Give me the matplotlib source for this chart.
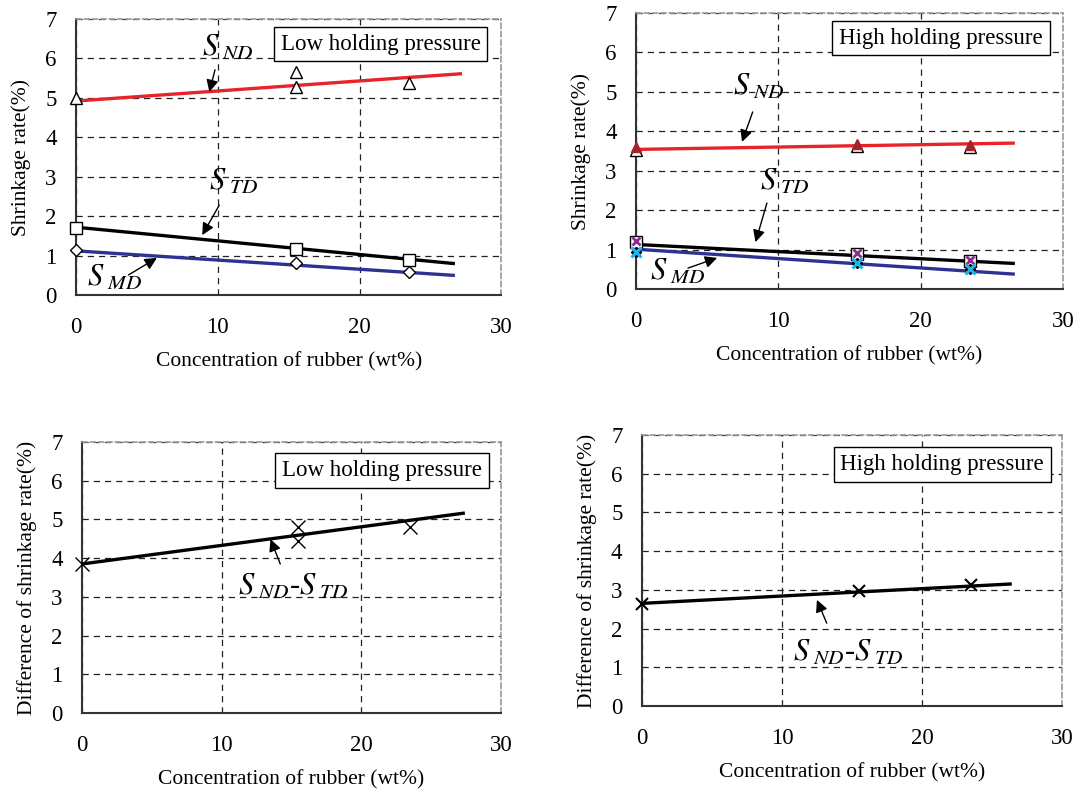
import numpy as np
import matplotlib
matplotlib.use("Agg")
import matplotlib.pyplot as plt

plt.rcParams['font.family'] = ['Liberation Serif', 'DejaVu Serif']
plt.rcParams['mathtext.fontset'] = 'stix'

# ---------------------------------------------------------
# Data
# ---------------------------------------------------------
rubber = [0, 15.5, 15.5, 23.5]          # wt% (two samples at 15.5)
rubber3 = [0, 15.5, 23.5]

# Low holding pressure
low_nd = [5.0, 5.65, 5.28, 5.38]
low_td = [1.71, 1.18, 0.89]
low_md = [1.14, 0.80, 0.59]
low_nd_fit_x, low_nd_fit_y = [0, 27.1], [4.92, 5.61]
low_td_fit_x, low_td_fit_y = [0, 26.6], [1.72, 0.80]
low_md_fit_x, low_md_fit_y = [0, 26.6], [1.12, 0.50]

# High holding pressure
high_nd_a = [3.53, 3.62, 3.60]
high_nd_b = [3.60, 3.67, 3.66]
high_td = [1.20, 0.88, 0.72]
high_td_b = [1.23, 0.91, 0.74]
high_md = [0.95, 0.67, 0.50]
high_nd_fit_x, high_nd_fit_y = [0, 26.5], [3.54, 3.70]
high_td_fit_x, high_td_fit_y = [0, 26.5], [1.13, 0.65]
high_md_fit_x, high_md_fit_y = [0, 26.5], [1.01, 0.38]

# Difference S_ND - S_TD
low_diff = [3.84, 4.81, 4.45, 4.80]
low_diff_fit_x, low_diff_fit_y = [0, 27.3], [3.85, 5.16]
high_diff = [2.63, 2.97, 3.13]
high_diff_fit_x, high_diff_fit_y = [0, 26.3], [2.65, 3.15]

RED = "#e8242a"
BLUE = "#2e3192"

# ---------------------------------------------------------
# Helpers
# ---------------------------------------------------------

def style_axes(ax, ylabel):
    ax.set_xlim(0, 30)
    ax.set_ylim(0, 7)
    ax.set_xticks([0, 10, 20, 30])
    ax.set_yticks(range(8))
    ax.tick_params(length=0, labelsize=16.5)
    ax.tick_params(axis='x', pad=16)
    ax.tick_params(axis='y', pad=14)
    ax.grid(True, linestyle=(0, (5, 4)), color="#222222", linewidth=0.9)
    for s in ("top", "right"):
        ax.spines[s].set_linestyle((0, (3, 2)))
        ax.spines[s].set_color("#999999")
        ax.spines[s].set_linewidth(1.2)
    for s in ("left", "bottom"):
        ax.spines[s].set_color("#333333")
        ax.spines[s].set_linewidth(1.5)
    ax.set_xlabel("Concentration of rubber (wt%)", fontsize=15.5, labelpad=10)
    ax.set_ylabel(ylabel, fontsize=15.5, labelpad=10)


def label(ax, txt, xy_text, xy_tip, xy_start):
    ax.text(*xy_text, txt, fontsize=22, va="center", ha="left")
    ax.annotate("", xy=xy_tip, xytext=xy_start,
                arrowprops=dict(arrowstyle="-|>", color="black", lw=1.0,
                                mutation_scale=18, shrinkA=0, shrinkB=0))


def box(ax, txt, x, y):
    ax.text(x, y, txt, transform=ax.transAxes, fontsize=16.5,
            ha="center", va="center", zorder=5,
            bbox=dict(boxstyle="square,pad=0.3", fc="white", ec="black", lw=1.0))


S_ND = r"$S_{\ ND}$"
S_TD = r"$S_{\ TD}$"
S_MD = r"$S_{\ MD}$"
S_DIFF = r"$S_{\ ND}$-$S_{\ TD}$"

fig = plt.figure(figsize=(10.77, 7.91), dpi=100)
ax1 = fig.add_axes([0.0706, 0.627, 0.395, 0.349])
ax2 = fig.add_axes([0.5905, 0.6346, 0.3965, 0.349])
ax3 = fig.add_axes([0.0761, 0.0986, 0.389, 0.3426])
ax4 = fig.add_axes([0.596, 0.1075, 0.390, 0.3426])

mk = dict(markersize=8, markerfacecolor="white", markeredgecolor="black",
          markeredgewidth=1.0, linestyle="none", zorder=4, clip_on=False)

# ---- top left: low holding pressure ----
ax1.plot(low_nd_fit_x, low_nd_fit_y, color=RED, lw=2.4, zorder=3)
ax1.plot(low_td_fit_x, low_td_fit_y, color="black", lw=2.4, zorder=3)
ax1.plot(low_md_fit_x, low_md_fit_y, color=BLUE, lw=2.4, zorder=3)
ax1.plot(rubber, low_nd, marker="^", **mk)
ax1.plot(rubber3, low_td, marker="s", **mk)
ax1.plot(rubber3, low_md, marker="D", **{**mk, "markersize": 6.5})
style_axes(ax1, "Shrinkage rate(%)")
label(ax1, S_ND, (8.9, 6.27), (9.4, 5.15), (9.8, 5.71))
label(ax1, S_TD, (9.4, 2.87), (8.9, 1.52), (10.1, 2.28))
label(ax1, S_MD, (0.8, 0.43), (5.7, 0.94), (3.7, 0.51))
box(ax1, "Low holding pressure", 0.716, 0.909)

# ---- top right: high holding pressure ----
ax2.plot(high_nd_fit_x, high_nd_fit_y, color=RED, lw=2.4, zorder=3)
ax2.plot(high_td_fit_x, high_td_fit_y, color="black", lw=2.4, zorder=3)
ax2.plot(high_md_fit_x, high_md_fit_y, color=BLUE, lw=2.4, zorder=3)
ax2.plot(rubber3, high_nd_a, marker="^", **mk)
ax2.plot(rubber3, high_nd_b, marker="^", markersize=7, color="#a0262a",
         linestyle="none", zorder=5, clip_on=False)
ax2.plot(rubber3, high_td, marker="s", **mk)
ax2.plot(rubber3, high_td_b, marker="x", markersize=6, color="#8e2c8e",
         markeredgewidth=2.0, linestyle="none", zorder=5, clip_on=False)
ax2.plot(rubber3, high_md, marker="D", markersize=5, color="black",
         linestyle="none", zorder=4, clip_on=False)
ax2.plot(rubber3, high_md, marker="x", markersize=7, color="#1fb5e8",
         markeredgewidth=2.2, linestyle="none", zorder=5, clip_on=False)
style_axes(ax2, "Shrinkage rate(%)")
label(ax2, S_ND, (6.8, 5.12), (7.45, 3.73), (8.2, 4.49))
label(ax2, S_TD, (8.7, 2.71), (8.4, 1.19), (9.2, 2.18))
label(ax2, S_MD, (1.0, 0.43), (5.7, 0.79), (3.65, 0.53))
box(ax2, "High holding pressure", 0.714, 0.909)

# ---- bottom left: difference, low pressure ----
ax3.plot(low_diff_fit_x, low_diff_fit_y, color="black", lw=2.4, zorder=3)
ax3.plot(rubber, low_diff, marker="x", markersize=10, color="black",
         markeredgewidth=1.0, linestyle="none", zorder=4, clip_on=False)
style_axes(ax3, "Difference of shrinkage rate(%)")
label(ax3, S_DIFF, (11.2, 3.26), (13.5, 4.49), (14.2, 3.85))
box(ax3, "Low holding pressure", 0.716, 0.895)

# ---- bottom right: difference, high pressure ----
ax4.plot(high_diff_fit_x, high_diff_fit_y, color="black", lw=2.4, zorder=3)
ax4.plot(rubber3, high_diff, marker="x", markersize=9, color="black",
         markeredgewidth=1.5, linestyle="none", zorder=4, clip_on=False)
style_axes(ax4, "Difference of shrinkage rate(%)")
label(ax4, S_DIFF, (10.8, 1.37), (12.5, 2.74), (13.2, 2.14))
box(ax4, "High holding pressure", 0.715, 0.891)

fig.savefig("out.png", dpi=100)
